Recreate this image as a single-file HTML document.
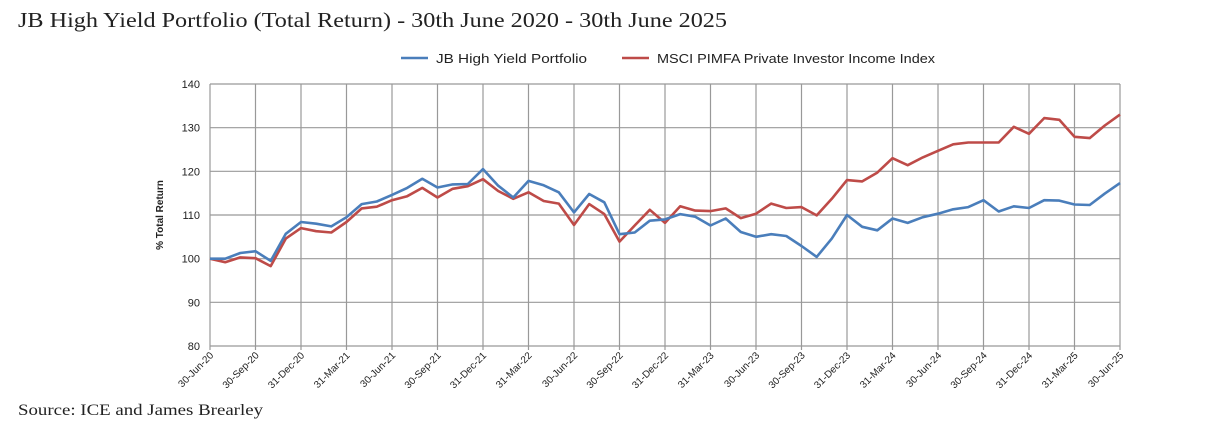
<!DOCTYPE html>
<html><head><meta charset="utf-8"><style>
body{margin:0;background:#fff;width:1219px;height:435px;overflow:hidden;font-family:"Liberation Sans",sans-serif}
</style></head><body>
<svg width="1219" height="435" xmlns="http://www.w3.org/2000/svg">
<text x="18" y="27" font-family="Liberation Serif,serif" font-size="21" fill="#222" textLength="709" lengthAdjust="spacingAndGlyphs">JB High Yield Portfolio (Total Return) - 30th June 2020 - 30th June 2025</text>
<g>
<line x1="401" y1="58" x2="428" y2="58" stroke="#4a7ebb" stroke-width="2.5"/>
<text x="436" y="63" font-size="13" fill="#222" textLength="151" lengthAdjust="spacingAndGlyphs">JB High Yield Portfolio</text>
<line x1="622" y1="58" x2="649" y2="58" stroke="#be4b48" stroke-width="2.5"/>
<text x="657" y="63" font-size="13" fill="#222" textLength="278" lengthAdjust="spacingAndGlyphs">MSCI PIMFA Private Investor Income Index</text>
</g>
<g id="grid"></g><g id="axes"></g><g id="series"></g>
<text transform="translate(163,215) rotate(-90)" text-anchor="middle" font-size="10" font-weight="bold" fill="#222">% Total Return</text>
<text x="18" y="415" font-family="Liberation Serif,serif" font-size="16" fill="#222" textLength="245" lengthAdjust="spacingAndGlyphs">Source: ICE and James Brearley</text>
</svg>
<script>
const xLabels=["30-Jun-20","30-Sep-20","31-Dec-20","31-Mar-21","30-Jun-21","30-Sep-21","31-Dec-21","31-Mar-22","30-Jun-22","30-Sep-22","31-Dec-22","31-Mar-23","30-Jun-23","30-Sep-23","31-Dec-23","31-Mar-24","30-Jun-24","30-Sep-24","31-Dec-24","31-Mar-25","30-Jun-25"];
const yTicks=[80,90,100,110,120,130,140];
const portfolio=[100,100,101.3,101.7,99.5,105.7,108.4,108,107.4,109.5,112.5,113.1,114.6,116.2,118.3,116.3,117,117.1,120.5,116.7,114,117.8,116.8,115.2,110.6,114.8,112.9,105.6,106,108.7,109,110.2,109.6,107.6,109.2,106.1,105,105.6,105.2,102.9,100.4,104.6,110,107.3,106.5,109.2,108.2,109.5,110.3,111.3,111.8,113.4,110.8,112,111.6,113.4,113.3,112.4,112.3,114.9,117.3];
const indexSeries=[100,99.2,100.3,100.1,98.3,104.6,107,106.3,106,108.4,111.5,111.9,113.4,114.3,116.2,114,116,116.6,118.2,115.5,113.7,115.2,113.2,112.6,107.7,112.5,110.2,103.9,107.6,111.2,108.2,112,111,110.9,111.5,109.3,110.3,112.6,111.6,111.8,109.9,113.7,118,117.7,119.7,123,121.4,123.2,124.7,126.2,126.6,126.6,126.6,130.2,128.6,132.2,131.8,127.9,127.6,130.5,133];
const X0=210,X1=1120,Y0=84,Y1=346,VMIN=80,VMAX=140,N=portfolio.length;
const xs=i=>X0+(X1-X0)*i/(N-1);
const ys=v=>Y1-(v-VMIN)/(VMAX-VMIN)*(Y1-Y0);
const NS="http://www.w3.org/2000/svg";
function mk(t,a,p){const e=document.createElementNS(NS,t);for(const k in a)e.setAttribute(k,a[k]);p.appendChild(e);return e;}
const grid=document.getElementById('grid'),axes=document.getElementById('axes'),ser=document.getElementById('series');
yTicks.forEach(v=>{
 const l=mk('line',{x1:X0,x2:X1,y1:ys(v),y2:ys(v),stroke:'#999','stroke-width':1.2},grid);
 
 
 const t=mk('text',{x:X0-10,y:ys(v)+4,'text-anchor':'end','font-size':11,fill:'#222'},axes);
 t.textContent=v;
 
 
});
xLabels.forEach((lab,k)=>{
 const x=xs(k*3);
 const l=mk('line',{x1:x,x2:x,y1:Y0,y2:Y1+4,stroke:'#999','stroke-width':1.2},grid);
 
 
 const t=mk('text',{transform:`translate(${x+4},${Y1+10}) rotate(-45)`,'text-anchor':'end','font-size':10,fill:'#222'},axes);
 t.textContent=lab;
 
 
});
function line(data,color,name){
 const p=mk('polyline',{points:data.map((v,i)=>xs(i).toFixed(1)+','+ys(v).toFixed(1)).join(' '),fill:'none',stroke:color,'stroke-width':2.6,'stroke-linejoin':'round'},ser);
 
 
}
line(indexSeries,'#be4b48','index-line');
line(portfolio,'#4a7ebb','portfolio-line');
</script>
</body></html>
